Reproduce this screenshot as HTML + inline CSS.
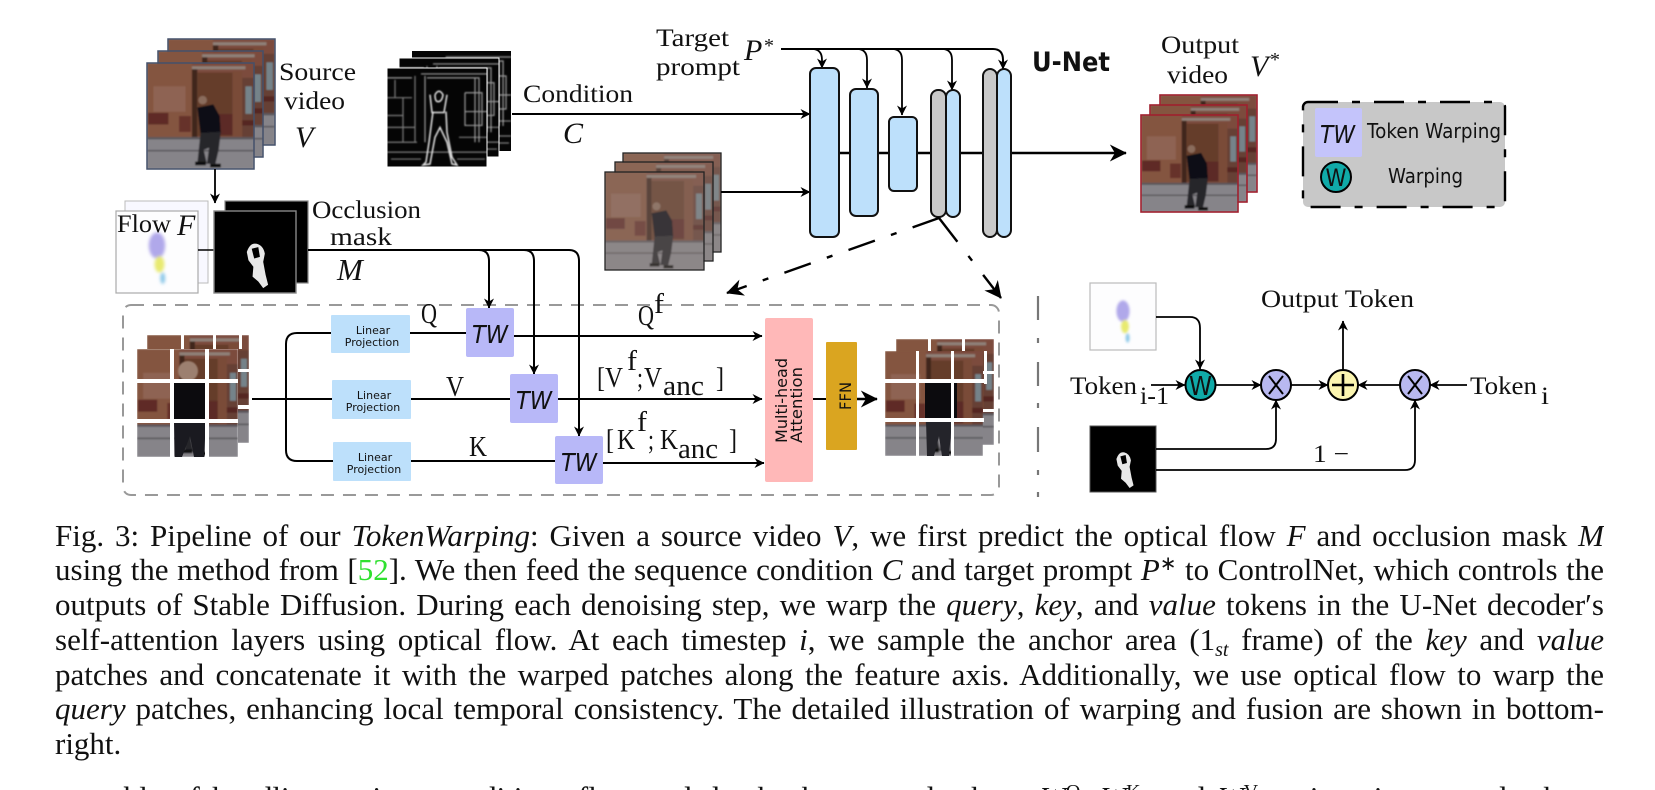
<!DOCTYPE html>
<html><head><meta charset="utf-8">
<style>
html,body{margin:0;padding:0;background:#fff;width:1655px;height:790px;overflow:hidden}
#wrap{position:relative;width:1655px;height:790px;overflow:hidden;contain:paint}
svg{position:absolute;left:0;top:0}
.m{font-family:"Liberation Serif",serif;font-size:25px;fill:#111}
.q{font-family:"Liberation Serif",serif;font-size:29px;fill:#111}
.s{font-family:"Liberation Serif",serif;font-style:italic;font-size:30px;fill:#111}
.d{font-family:"DejaVu Sans",sans-serif;fill:#111}
.l{position:absolute;left:55px;width:1549px;height:34px;line-height:34px;font-family:"Liberation Serif",serif;font-size:31px;color:#111;text-align:justify;text-align-last:justify;overflow:hidden}
.sb{font-size:20px;position:relative;top:6px;line-height:0}
.sp{font-size:20px;position:relative;top:-10px;line-height:0}
</style></head><body>
<div id="wrap">
<svg width="1655" height="790" viewBox="0 0 1655 790">
<defs>
<filter id="b1"><feGaussianBlur stdDeviation="0.7"/></filter>
<filter id="b2" x="-30%" y="-30%" width="160%" height="160%"><feGaussianBlur stdDeviation="2"/></filter>
<marker id="a" viewBox="0 0 10 10" refX="9.5" refY="5" markerWidth="12" markerHeight="10" markerUnits="userSpaceOnUse" orient="auto"><path d="M0 0L10 5L0 10L3 5z" fill="#000"/></marker>
<marker id="A" viewBox="0 0 10 10" refX="9.5" refY="5" markerWidth="20" markerHeight="17" markerUnits="userSpaceOnUse" orient="auto"><path d="M0 0L10 5L0 10L3 5z" fill="#000"/></marker>
<symbol id="scene" viewBox="0 0 100 100" preserveAspectRatio="none">
<g filter="url(#b1)">
<rect width="100" height="100" fill="#7c4c3c"/>
<rect x="0" y="0" width="42" height="72" fill="#84543f"/>
<rect x="6" y="22" width="30" height="24" fill="#8e6452"/>
<rect x="1" y="47" width="19" height="11" fill="#5e2a26"/>
<rect x="30" y="50" width="11" height="15" fill="#66302a"/>
<rect x="42" y="3" width="50" height="3" fill="#8f8078"/>
<rect x="42" y="6" width="5" height="66" fill="#3f261e"/>
<rect x="47" y="9" width="33" height="60" fill="#653c2c"/>
<rect x="66" y="48" width="14" height="20" fill="#5c2a26"/>
<rect x="80" y="8" width="9" height="64" fill="#7a4b39"/>
<rect x="89" y="14" width="11" height="58" fill="#664034"/>
<rect x="92" y="22" width="6" height="26" fill="#75838a"/>
<rect x="89" y="54" width="11" height="5" fill="#542824"/>
<rect y="70" width="100" height="30" fill="#868489"/>
<rect y="70" width="100" height="2" fill="#59545a"/>
<rect y="82" width="100" height="1.5" fill="#5a585c"/>
<circle cx="52" cy="35" r="4" fill="#8a6c5c"/>
<path d="M47 42L62 39L68 50L69 66L50 67z" fill="#111015"/>
<path d="M50 66L69 65L67 82L64 95L56 95L58 80L53 82L56 95L47 95z" fill="#26262c"/>
<rect x="45" y="93" width="10" height="3.5" fill="#111"/><rect x="59" y="95" width="10" height="3.5" fill="#111"/>
</g>
</symbol>
<symbol id="noisy" viewBox="0 0 100 100" preserveAspectRatio="none">
<use href="#scene" width="100" height="100"/>
<rect width="100" height="100" fill="#9a8f88" opacity=".3"/>
</symbol>
<symbol id="edge" viewBox="0 0 100 100" preserveAspectRatio="none">
<rect width="100" height="100" fill="#050505"/>
<g fill="none" stroke="#cfcfcf" stroke-width="1.2" filter="url(#b1)">
<path d="M0 30H25M0 48H16M16 30V75M0 75H30M0 85H100M8 12V30M0 60H28M72 70H100M28 8V75M4 92H34M70 92H98" opacity=".6"/>
<path d="M34 6H100M38 8V75M40 10H92V75M78 25H95V58H78V25M78 44H100M0 10H25M88 10V75" opacity=".75"/>
<path d="M43 27L45 45L53 45L57 45L60 27M46 44L42 75L39 95L36 98L43 97L48 70L53 60L60 75L65 97L70 98L65 90L60 65L59 44M48 27Q52 20 56 27Q55 34 51 34Q48 34 48 27" stroke="#e8e8e8" stroke-width="1.5"/>
</g>
</symbol>
<symbol id="flow" viewBox="0 0 100 100" preserveAspectRatio="none">
<rect width="100" height="100" fill="#fdfdfe"/>
<g filter="url(#b2)">
<ellipse cx="50" cy="42" rx="10" ry="16" fill="#b0a8ea"/>
<ellipse cx="53" cy="65" rx="6" ry="10" fill="#e8ea70"/>
<ellipse cx="57" cy="82" rx="3" ry="7" fill="#8cc8e8"/>
</g>
</symbol>
<symbol id="mask" viewBox="0 0 100 100" preserveAspectRatio="none">
<rect width="100" height="100" fill="#000"/>
<path d="M40 50Q44 38 52 40Q60 42 62 52L60 62L63 78L66 90L60 94L54 86L47 80L48 68L42 60z" fill="#e8e8e8"/>
<path d="M46 46L54 44L56 56L49 58z" fill="#000"/>
</symbol>
</defs>

<!-- Source video -->
<use href="#scene" x="168" y="39" width="107" height="106"/><rect x="168" y="39" width="107" height="106" fill="none" stroke="#44506a" stroke-width="1.5"/>
<use href="#scene" x="158" y="51" width="105" height="106"/><rect x="158" y="51" width="105" height="106" fill="none" stroke="#44506a" stroke-width="1.5"/>
<use href="#scene" x="147" y="63" width="107" height="106"/><rect x="147" y="63" width="107" height="106" fill="none" stroke="#44506a" stroke-width="1.5"/>
<text class="m" x="279" y="80" textLength="77" lengthAdjust="spacingAndGlyphs">Source</text>
<text class="m" x="284" y="109" textLength="61" lengthAdjust="spacingAndGlyphs">video</text>
<text class="s" x="295" y="147">V</text>

<!-- Condition -->
<use href="#edge" x="412" y="51" width="99" height="100"/>
<use href="#edge" x="399" y="58" width="100" height="99"/><rect x="399" y="58" width="100" height="99" fill="none" stroke="#fff" stroke-width="1"/>
<use href="#edge" x="387" y="68" width="100" height="99"/><rect x="387" y="68" width="100" height="99" fill="none" stroke="#fff" stroke-width="1"/>
<text class="m" x="523" y="102" textLength="110" lengthAdjust="spacingAndGlyphs">Condition</text>
<text class="s" x="563" y="143">C</text>
<path d="M512 114H810" stroke="#000" stroke-width="2" fill="none" marker-end="url(#a)"/>

<!-- Target prompt -->
<text class="m" x="656" y="46" textLength="73" lengthAdjust="spacingAndGlyphs">Target</text>
<text class="m" x="656" y="75" textLength="84" lengthAdjust="spacingAndGlyphs">prompt</text>
<text class="s" x="744" y="60">P</text><text class="s" x="764" y="52" style="font-style:normal;font-size:20px">*</text>
<g fill="none" stroke="#000" stroke-width="1.8">
<path d="M781 49H993Q1003 49 1003 60V69" marker-end="url(#a)" stroke-width="2"/>
<path d="M812 49Q822 49 822 60V68" marker-end="url(#a)"/>
<path d="M857 49Q867 49 867 60V88" marker-end="url(#a)"/>
<path d="M892 49Q902 49 902 60V115" marker-end="url(#a)"/>
<path d="M942 49Q952 49 952 60V90" marker-end="url(#a)"/>
</g>

<!-- Noisy -->
<use href="#noisy" x="623" y="153" width="98" height="99"/><rect x="623" y="153" width="98" height="99" fill="none" stroke="#222" stroke-width="1.3"/>
<use href="#noisy" x="615" y="162" width="98" height="99"/><rect x="615" y="162" width="98" height="99" fill="none" stroke="#222" stroke-width="1.3"/>
<use href="#noisy" x="605" y="172" width="99" height="98"/><rect x="605" y="172" width="99" height="98" fill="none" stroke="#222" stroke-width="1.3"/>
<path d="M721 192H810" stroke="#000" stroke-width="2" fill="none" marker-end="url(#a)"/>

<!-- U-Net -->
<path d="M839 153H1126" stroke="#000" stroke-width="2.6" fill="none" marker-end="url(#A)"/>
<g stroke="#111" stroke-width="2">
<rect x="810" y="68" width="29" height="169" rx="6" fill="#bde0fb"/>
<rect x="850" y="89" width="28" height="127" rx="6" fill="#bde0fb"/>
<rect x="889" y="117" width="28" height="74" rx="5" fill="#bde0fb"/>
<rect x="931" y="90" width="15" height="127" rx="7" fill="#c9c9c9"/>
<rect x="946" y="90" width="14" height="127" rx="7" fill="#bde0fb"/>
<rect x="983" y="69" width="14" height="168" rx="7" fill="#c9c9c9"/>
<rect x="997" y="69" width="14" height="168" rx="7" fill="#bde0fb"/>
</g>
<text class="d" x="1032" y="71" font-size="27" font-weight="700" textLength="78" lengthAdjust="spacingAndGlyphs">U-Net</text>

<!-- dash-dot arrows -->
<path d="M939 218L727 293" stroke="#000" stroke-width="2.4" fill="none" stroke-dasharray="28 17 6 17" marker-end="url(#A)"/>
<path d="M939 218L1001 298" stroke="#000" stroke-width="2.4" fill="none" stroke-dasharray="30 18 6 18" marker-end="url(#A)"/>

<!-- Output -->
<text class="m" x="1161" y="53" textLength="78" lengthAdjust="spacingAndGlyphs">Output</text>
<text class="m" x="1167" y="83" textLength="61" lengthAdjust="spacingAndGlyphs">video</text>
<text class="s" x="1250" y="76">V</text><text class="s" x="1270" y="66" style="font-style:normal;font-size:20px">*</text>
<use href="#scene" x="1160" y="95" width="97" height="97"/><rect x="1160" y="95" width="97" height="97" fill="none" stroke="#a0202e" stroke-width="1.6"/>
<use href="#scene" x="1150" y="105" width="97" height="97"/><rect x="1150" y="105" width="97" height="97" fill="none" stroke="#a0202e" stroke-width="1.6"/>
<use href="#scene" x="1141" y="115" width="97" height="97"/><rect x="1141" y="115" width="97" height="97" fill="none" stroke="#a0202e" stroke-width="1.6"/>

<!-- Legend -->
<rect x="1303" y="102" width="202" height="105" rx="5" fill="#c8c8c8" stroke="#000" stroke-width="2.4" stroke-dasharray="30 14 8 14"/>
<rect x="1315" y="108" width="47" height="49" rx="2" fill="#c4c4fb"/>
<text class="d" x="1320" y="143" font-size="25" font-style="italic" textLength="35" lengthAdjust="spacingAndGlyphs">TW</text>
<text class="d" x="1367" y="138" font-size="20" textLength="134" lengthAdjust="spacingAndGlyphs">Token Warping</text>
<ellipse cx="1336" cy="177" rx="15" ry="15" fill="#10aaa8" stroke="#000" stroke-width="2"/>
<text class="d" x="1325.5" y="186" font-size="24" textLength="21" lengthAdjust="spacingAndGlyphs">W</text>
<text class="d" x="1388" y="183" font-size="20" textLength="75" lengthAdjust="spacingAndGlyphs">Warping</text>

<!-- Flow and mask -->
<use href="#flow" x="125" y="201" width="83" height="82"/><rect x="125" y="201" width="83" height="82" fill="#f8f8ff" stroke="#bbb"/>
<use href="#flow" x="116" y="211" width="82" height="82"/><rect x="116" y="211" width="82" height="82" fill="none" stroke="#aaa" stroke-width="1.2"/>
<text class="m" x="117" y="232" textLength="54" lengthAdjust="spacingAndGlyphs">Flow</text>
<text class="s" x="177" y="235">F</text>
<path d="M198 250H214" stroke="#000" stroke-width="1.5"/>
<rect x="225" y="201" width="83" height="82" fill="#000" stroke="#888" stroke-width="1.2"/>
<use href="#mask" x="214" y="211" width="82" height="82"/><rect x="214" y="211" width="82" height="82" fill="none" stroke="#888" stroke-width="1.4"/>
<text class="m" x="312" y="218" textLength="109" lengthAdjust="spacingAndGlyphs">Occlusion</text>
<text class="m" x="330" y="245" textLength="62" lengthAdjust="spacingAndGlyphs">mask</text>
<text class="s" x="337" y="280" style="font-size:31px">M</text>
<path d="M215 169V203" stroke="#000" stroke-width="1.8" fill="none" marker-end="url(#a)"/>

<!-- Dashed panel -->
<rect x="123" y="305" width="876" height="190" rx="8" fill="none" stroke="#999" stroke-width="2" stroke-dasharray="13 9"/>

<!-- mask lines -->
<g fill="none" stroke="#000" stroke-width="2">
<path d="M308 250H569Q579 250 579 261V436" marker-end="url(#a)"/>
<path d="M479 250Q489 250 489 261V308" marker-end="url(#a)"/>
<path d="M524 250Q534 250 534 261V374" marker-end="url(#a)"/>
</g>

<!-- Input patches -->
<use href="#scene" x="147" y="335" width="102" height="108"/>
<rect x="137" y="349" width="101" height="108" fill="#fff"/>
<use href="#scene" x="137" y="349" width="101" height="108"/>
<rect x="173" y="381" width="34" height="41" fill="#0c0b0e"/>
<path d="M174 420H206L204 457H194L190 436L182 457H175z" fill="#1a1a20"/>
<circle cx="188" cy="371" r="10" fill="#9c8070" filter="url(#b1)"/>
<g fill="#fff">
<rect x="170" y="349" width="4" height="108"/><rect x="205" y="349" width="4" height="108"/>
<rect x="137" y="379" width="101" height="4"/><rect x="137" y="419" width="101" height="4"/>
<rect x="239" y="335" width="3" height="14"/><rect x="213" y="335" width="3" height="14"/><rect x="181" y="335" width="3" height="14"/>
<rect x="238" y="369" width="12" height="3"/><rect x="238" y="405" width="12" height="4"/>
</g>

<!-- Lines -->
<g fill="none" stroke="#000" stroke-width="2">
<path d="M331 333H297Q286 333 286 344V450Q286 461 297 461H333"/>
<path d="M252 399H332"/>
<path d="M410 333H466"/>
<path d="M411 399H510"/>
<path d="M411 461H555"/>
<path d="M514 336H762" marker-end="url(#a)"/>
<path d="M558 399H762" marker-end="url(#a)"/>
<path d="M603 463H764" marker-end="url(#a)"/>
<path d="M813 399H826"/>
<path d="M857 399H877" stroke-width="2.5" marker-end="url(#A)"/>
</g>

<!-- Linear projection -->
<g fill="#bde0fb">
<rect x="331" y="315" width="79" height="38" rx="1"/>
<rect x="332" y="380" width="79" height="39" rx="1"/>
<rect x="333" y="442" width="78" height="39" rx="1"/>
</g>
<text class="d" x="373" y="334" font-size="11" text-anchor="middle">Linear</text>
<text class="d" x="372" y="346" font-size="11" text-anchor="middle">Projection</text>
<text class="d" x="374" y="399" font-size="11" text-anchor="middle">Linear</text>
<text class="d" x="373" y="411" font-size="11" text-anchor="middle">Projection</text>
<text class="d" x="375" y="461" font-size="11" text-anchor="middle">Linear</text>
<text class="d" x="374" y="473" font-size="11" text-anchor="middle">Projection</text>

<!-- TW -->
<g fill="#b8b8f8">
<rect x="466" y="308" width="48" height="49" rx="2"/>
<rect x="510" y="374" width="48" height="49" rx="2"/>
<rect x="555" y="436" width="48" height="48" rx="2"/>
</g>
<text class="d" x="472" y="343" font-size="25" font-style="italic" textLength="36" lengthAdjust="spacingAndGlyphs">TW</text>
<text class="d" x="516" y="409" font-size="25" font-style="italic" textLength="36" lengthAdjust="spacingAndGlyphs">TW</text>
<text class="d" x="561" y="471" font-size="25" font-style="italic" textLength="36" lengthAdjust="spacingAndGlyphs">TW</text>

<text class="q" x="421" y="323" textLength="16" lengthAdjust="spacingAndGlyphs">Q</text>
<text class="q" x="446" y="396" textLength="18" lengthAdjust="spacingAndGlyphs">V</text>
<text class="q" x="469" y="456" textLength="18" lengthAdjust="spacingAndGlyphs">K</text>
<text class="q" x="638" y="325" textLength="16" lengthAdjust="spacingAndGlyphs">Q</text>
<text class="q" x="654" y="313" textLength="10" lengthAdjust="spacingAndGlyphs">f</text>

<text class="q" x="597" y="387" textLength="8" lengthAdjust="spacingAndGlyphs">[</text>
<text class="q" x="605" y="387" textLength="18" lengthAdjust="spacingAndGlyphs">V</text>
<text class="q" x="627" y="370" textLength="10" lengthAdjust="spacingAndGlyphs">f</text>
<text class="q" x="637" y="387" textLength="6" lengthAdjust="spacingAndGlyphs">;</text>
<text class="q" x="644" y="387" textLength="18" lengthAdjust="spacingAndGlyphs">V</text>
<text class="q" x="663" y="395" textLength="41" lengthAdjust="spacingAndGlyphs">anc</text>
<text class="q" x="716" y="387" textLength="8" lengthAdjust="spacingAndGlyphs">]</text>

<text class="q" x="606" y="449" textLength="8" lengthAdjust="spacingAndGlyphs">[</text>
<text class="q" x="617" y="449" textLength="18" lengthAdjust="spacingAndGlyphs">K</text>
<text class="q" x="637" y="431" textLength="10" lengthAdjust="spacingAndGlyphs">f</text>
<text class="q" x="648" y="449" textLength="6" lengthAdjust="spacingAndGlyphs">;</text>
<text class="q" x="660" y="449" textLength="18" lengthAdjust="spacingAndGlyphs">K</text>
<text class="q" x="678" y="458" textLength="40" lengthAdjust="spacingAndGlyphs">anc</text>
<text class="q" x="729" y="449" textLength="8" lengthAdjust="spacingAndGlyphs">]</text>

<!-- MHA & FFN -->
<rect x="765" y="318" width="48" height="164" rx="2" fill="#ffb8b8"/>
<text class="d" transform="translate(787 443) rotate(-90)" font-size="16" textLength="85" lengthAdjust="spacingAndGlyphs">Multi-head</text>
<text class="d" transform="translate(802 443) rotate(-90)" font-size="16" textLength="76" lengthAdjust="spacingAndGlyphs">Attention</text>
<rect x="826" y="342" width="31" height="108" rx="1" fill="#daa520"/>
<text class="d" transform="translate(851 410) rotate(-90)" font-size="16" textLength="28" lengthAdjust="spacingAndGlyphs">FFN</text>

<!-- Output patches -->
<use href="#scene" x="896" y="339" width="98" height="106"/>
<use href="#scene" x="885" y="351" width="98" height="105"/>
<rect x="925" y="379" width="32" height="41" fill="#0c0b0e"/>
<path d="M926 420H952L949 456H942L939 436L934 456H927z" fill="#24242a"/>
<g fill="#fff">
<rect x="916" y="351" width="3" height="105"/><rect x="951" y="351" width="3" height="105"/><rect x="984" y="351" width="3" height="33"/>
<rect x="885" y="379" width="99" height="4"/><rect x="885" y="418" width="99" height="4"/>
<rect x="928" y="339" width="3" height="12"/><rect x="962" y="339" width="3" height="12"/>
<rect x="983" y="371" width="12" height="3"/><rect x="983" y="409" width="12" height="3"/>
</g>

<!-- vertical dash-dot -->
<path d="M1038 296V320M1038 338V343M1038 362V386M1038 403V408M1038 427V452M1038 470V475M1038 492V497" stroke="#777" stroke-width="2.2" fill="none"/>

<!-- Right diagram -->
<use href="#flow" x="1090" y="283" width="66" height="67"/><rect x="1090" y="283" width="66" height="67" fill="none" stroke="#bbb" stroke-width="1.2"/>
<use href="#mask" x="1090" y="426" width="66" height="66"/><rect x="1090" y="426" width="66" height="66" fill="none" stroke="#555" stroke-width="1"/>
<g fill="none" stroke="#000" stroke-width="1.8">
<path d="M1156 317H1190Q1200 317 1200 328V369" marker-end="url(#a)"/>
<path d="M1151 385H1185" marker-end="url(#a)"/>
<path d="M1216 385H1261" marker-end="url(#a)"/>
<path d="M1291 385H1328" marker-end="url(#a)"/>
<path d="M1400 385H1358" marker-end="url(#a)"/>
<path d="M1467 385H1430" marker-end="url(#a)"/>
<path d="M1343 370V321" marker-end="url(#a)"/>
<path d="M1156 449H1266Q1276 449 1276 439V400" marker-end="url(#a)"/>
<path d="M1156 470H1405Q1415 470 1415 460V400" marker-end="url(#a)"/>
</g>
<circle cx="1200.5" cy="385" r="15" fill="#10aaa8" stroke="#000" stroke-width="2"/>
<text class="d" x="1189" y="395" font-size="26" textLength="23" lengthAdjust="spacingAndGlyphs">W</text>
<circle cx="1276" cy="385" r="15" fill="#b8b8f0" stroke="#000" stroke-width="2"/>
<path d="M1269 376L1283 394M1283 376L1269 394" stroke="#000" stroke-width="2"/>
<circle cx="1343" cy="385" r="15" fill="#fbf5b0" stroke="#000" stroke-width="2"/>
<path d="M1332 385H1354M1343 374V396" stroke="#000" stroke-width="2.6"/>
<circle cx="1415" cy="385" r="15" fill="#b8b8f0" stroke="#000" stroke-width="2"/>
<path d="M1408 376L1422 394M1422 376L1408 394" stroke="#000" stroke-width="2"/>
<text class="m" x="1261" y="307" textLength="153" lengthAdjust="spacingAndGlyphs">Output Token</text>
<text class="m" x="1070" y="394" textLength="67" lengthAdjust="spacingAndGlyphs">Token</text>
<text class="m" x="1140" y="404" textLength="29" lengthAdjust="spacingAndGlyphs">i-1</text>
<text class="m" x="1470" y="394" textLength="67" lengthAdjust="spacingAndGlyphs">Token</text>
<text class="m" x="1541" y="404" textLength="8" lengthAdjust="spacingAndGlyphs">i</text>
<text class="m" x="1313" y="462" textLength="36" lengthAdjust="spacingAndGlyphs">1 −</text>
</svg>

<div class="l" style="top:519px">Fig. 3: Pipeline of our <i>TokenWarping</i>: Given a source video <i>V</i>, we first predict the optical flow <i>F</i> and occlusion mask <i>M</i></div>
<div class="l" style="top:553px">using the method from [<span style="color:#2fe02f">52</span>]. We then feed the sequence condition <i>C</i> and target prompt <i>P</i><span class="sp">∗</span> to ControlNet, which controls the</div>
<div class="l" style="top:588px">outputs of Stable Diffusion. During each denoising step, we warp the <i>query</i>, <i>key</i>, and <i>value</i> tokens in the U-Net decoder′s</div>
<div class="l" style="top:623px">self-attention layers using optical flow. At each timestep <i>i</i>, we sample the anchor area (1<i class="sb">st</i> frame) of the <i>key</i> and <i>value</i></div>
<div class="l" style="top:658px">patches and concatenate it with the warped patches along the feature axis. Additionally, we use optical flow to warp the</div>
<div class="l" style="top:692px"><i>query</i> patches, enhancing local temporal consistency. The detailed illustration of warping and fusion are shown in bottom-</div>
<div class="l" style="top:727px;text-align-last:left">right.</div>
<div class="l" style="top:781px;left:110px;width:1490px;height:9px">able of handling various conditions flow and depth, the warped tokens <i>W</i><span class="sp">Q</span>, <i>W</i><span class="sp">K</span>, and <i>W</i><span class="sp">V</span> various inputs and tokens</div>
</div>
</body></html>
